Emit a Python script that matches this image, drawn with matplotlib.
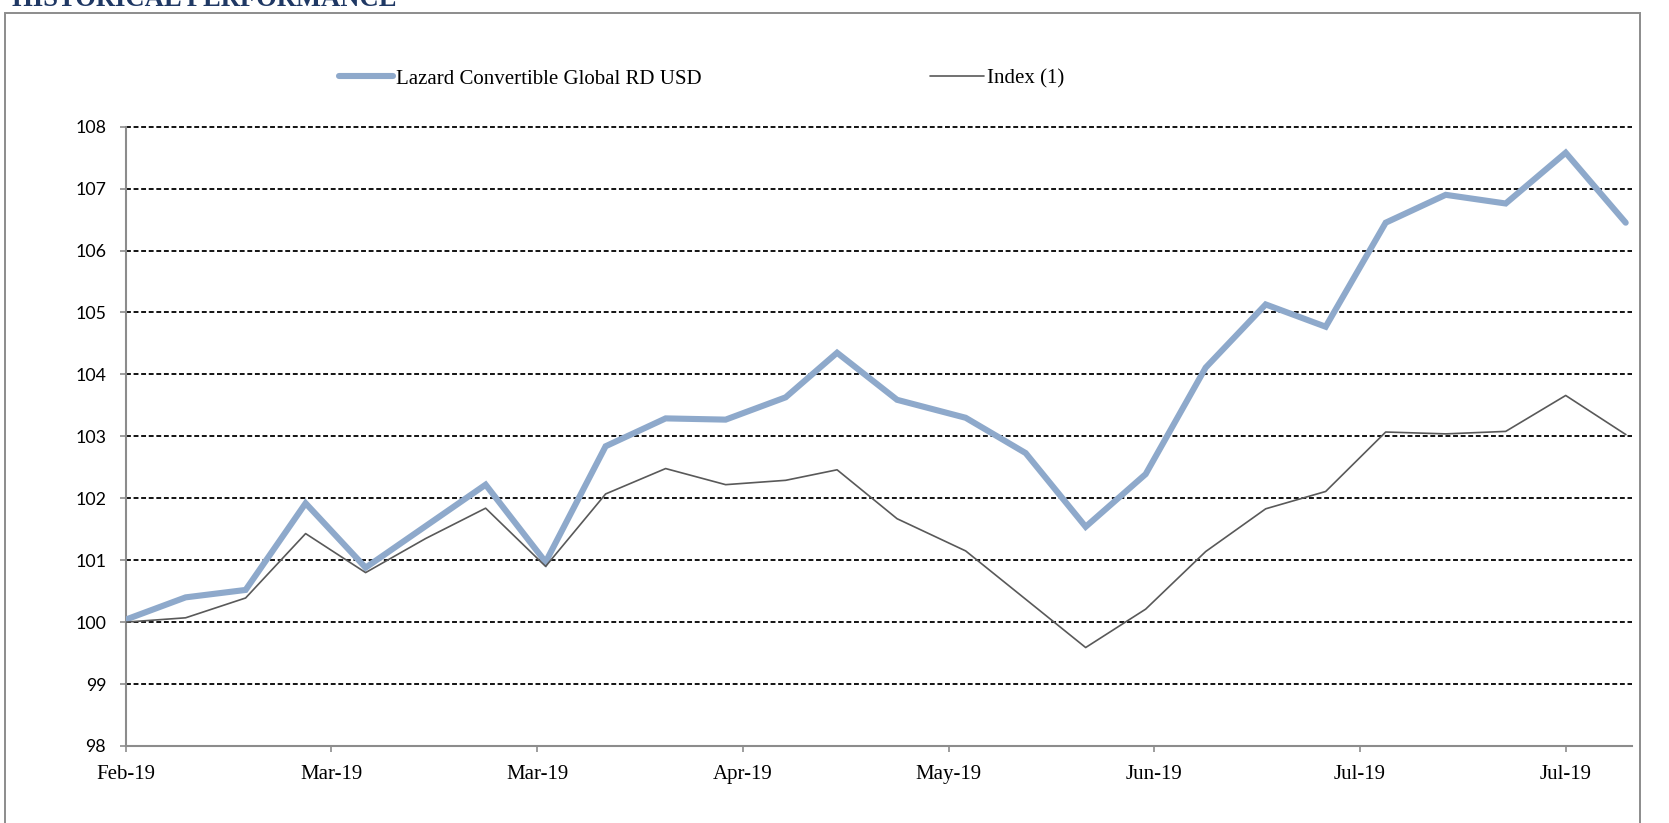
import matplotlib
matplotlib.use("Agg")
import matplotlib.pyplot as plt
import matplotlib.dates as mdates
from matplotlib.patches import Rectangle
import pandas as pd

# ---- data ----
dates = ["2019-02-08", "2019-02-15", "2019-02-22", "2019-03-01", "2019-03-08",
         "2019-03-15", "2019-03-22", "2019-03-29", "2019-04-05", "2019-04-12",
         "2019-04-19", "2019-04-26", "2019-05-02", "2019-05-09", "2019-05-17",
         "2019-05-24", "2019-05-31", "2019-06-07", "2019-06-14", "2019-06-21",
         "2019-06-28", "2019-07-05", "2019-07-12", "2019-07-19", "2019-07-26",
         "2019-08-02"]
fund = [100.04, 100.40, 100.52, 101.92, 100.88, 101.55, 102.22, 100.97, 102.84,
        103.29, 103.27, 103.63, 104.35, 103.59, 103.30, 102.73, 101.54, 102.39,
        104.11, 105.13, 104.77, 106.45, 106.90, 106.76, 107.58, 106.45]
index = [100.00, 100.07, 100.39, 101.43, 100.80, 101.35, 101.84, 100.90, 102.07,
         102.48, 102.22, 102.29, 102.46, 101.67, 101.15, 100.37, 99.59, 100.21,
         101.14, 101.83, 102.11, 103.07, 103.04, 103.08, 103.66, 103.03]
series_names = ["Lazard Convertible Global RD USD", "Index (1)"]
y_ticks = [98, 99, 100, 101, 102, 103, 104, 105, 106, 107, 108]
title = "HISTORICAL PERFORMANCE"

x = pd.to_datetime(dates)

W, H = 1669, 823
fig = plt.figure(figsize=(W / 100, H / 100), dpi=100)

# outer frame
fig.patches.append(Rectangle((5 / W, -0.02), (1640 - 5) / W, 1.02 - 12.5 / H,
                             transform=fig.transFigure, fill=False,
                             edgecolor="#8c8c8c", linewidth=1.4))

# title at top (cut by the page edge as in the source)
fig.text(12 / W, 1 - 5.5 / H, title, ha="left", va="baseline",
         fontsize=19.2, fontweight="bold", family="Liberation Serif", color="#1F3864")

left, right = 125.6 / W, 1631.7 / W
bottom, top = 1 - 746 / H, 1 - 126.7 / H
ax = fig.add_axes([left, bottom, right - left, top - bottom])

l1, = ax.plot(x, fund, color="#8EA9CB", linewidth=4.4, solid_capstyle="round",
              solid_joinstyle="miter", label=series_names[0], zorder=4)
l2, = ax.plot(x, index, color="#595959", linewidth=1.2, label=series_names[1], zorder=5)

ax.set_ylim(98, 108)
ax.set_yticks(y_ticks)
x0 = x[0]
ax.set_xlim(x0, x0 + pd.Timedelta(days=175.7))
xt = pd.date_range(x0, periods=8, freq="24D")
ax.set_xticks(xt)
ax.xaxis.set_major_formatter(mdates.DateFormatter("%b-%y"))

for yv in y_ticks[1:]:
    ax.axhline(yv, color="black", linewidth=1.3, linestyle=(0, (2.7, 1.5)), zorder=2,
               clip_on=False)

for s in ["top", "right"]:
    ax.spines[s].set_visible(False)
for s in ["left", "bottom"]:
    ax.spines[s].set_color("#8c8c8c")
    ax.spines[s].set_linewidth(1.5)

ax.tick_params(axis="both", direction="out", length=4, width=1.2, color="#8c8c8c")
ax.tick_params(axis="y", pad=10)
ax.tick_params(axis="x", pad=10)
for lab in ax.get_yticklabels():
    lab.set_fontfamily("Lato")
    lab.set_fontsize(12.8)
for lab in ax.get_xticklabels():
    lab.set_fontfamily("Liberation Serif")
    lab.set_fontsize(15)

leg = fig.legend(handles=[l1, l2], labels=series_names, ncol=2,
                 loc="center left", bbox_to_anchor=(338.5 / W, 1 - 78.8 / H),
                 frameon=False, borderpad=0, borderaxespad=0,
                 handlelength=2.6, handletextpad=0.15, columnspacing=10.95,
                 prop={"family": "Liberation Serif", "size": 15})
for h in leg.get_lines():
    h.set_solid_capstyle("round")

fig.savefig("out.png", dpi=100)
